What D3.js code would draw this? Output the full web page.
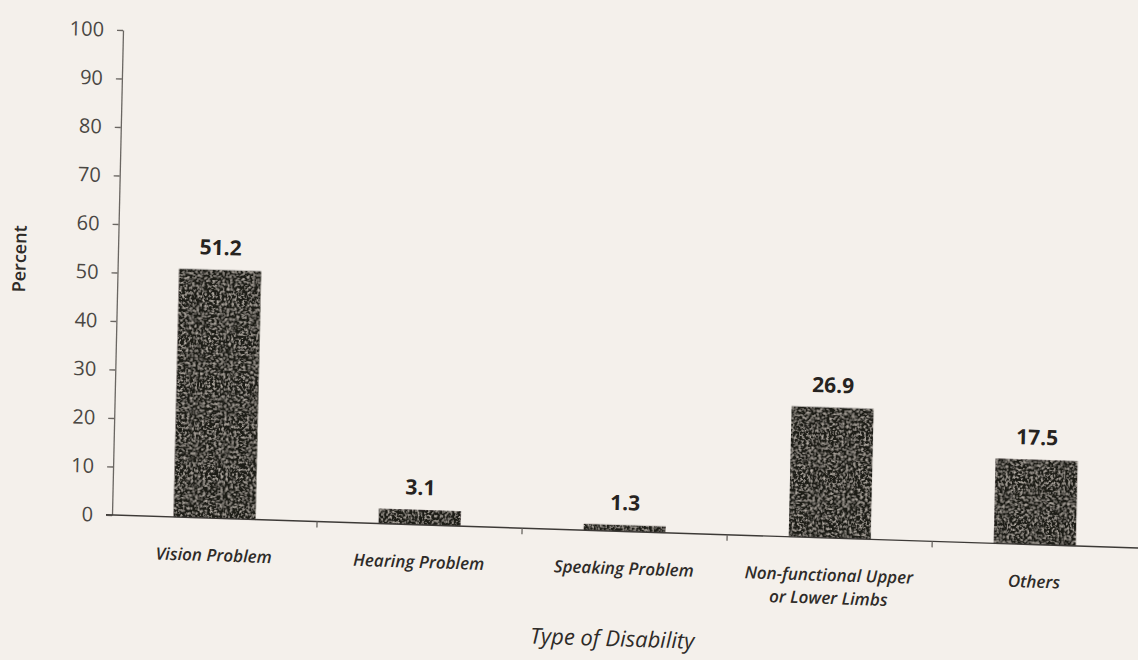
<!DOCTYPE html>
<html>
<head>
<meta charset="utf-8">
<script src="https://cdn.jsdelivr.net/npm/d3@7"></script>
<style>
  html, body { margin: 0; padding: 0; background: #f4f0eb; }
  svg { display: block; }
</style>
</head>
<body>
<script>
// Data
const categories = ["Vision Problem", "Hearing Problem", "Speaking Problem", "Non-functional Upper or Lower Limbs", "Others"];
const categoryLines = [["Vision Problem"], ["Hearing Problem"], ["Speaking Problem"], ["Non-functional Upper", "or Lower Limbs"], ["Others"]];
const percents = [51.2, 3.1, 1.3, 26.9, 17.5];
const yTicks = [0, 10, 20, 30, 40, 50, 60, 70, 80, 90, 100];

// Constants
const width = 1138;
const height = 660;
const plot = { left: 112, right: 1138, top: 30, bottom: 515 };
// the scan is a bit skewed: baseline drops to the right, y axis leans right
const skewX = -1.3;
const skewY = 1.84;

const svg = d3.select("body")
    .append("svg")
    .attr("width", width)
    .attr("height", height);

// grainy texture for the printed bars
const defs = svg.append("defs");
const grain = defs.append("filter").attr("id", "grain")
    .attr("x", 0).attr("y", 0).attr("width", 1).attr("height", 1);
grain.append("feTurbulence")
    .attr("type", "fractalNoise")
    .attr("baseFrequency", 0.4)
    .attr("numOctaves", 3)
    .attr("seed", 7)
    .attr("result", "noise");
grain.append("feColorMatrix")
    .attr("in", "noise")
    .attr("type", "matrix")
    .attr("values", "0 0 0 0 0.5  0 0 0 0 0.46  0 0 0 0 0.41  0 0 0 2.8 -1.35")
    .attr("result", "spots");
grain.append("feComposite")
    .attr("in", "spots").attr("in2", "SourceGraphic")
    .attr("operator", "in").attr("result", "clipped");
const merge = grain.append("feMerge");
merge.append("feMergeNode").attr("in", "SourceGraphic");
merge.append("feMergeNode").attr("in", "clipped");

const g = svg.append("g")
    .attr("transform", `translate(${plot.left}, ${plot.bottom}) skewX(${skewX}) skewY(${skewY}) translate(${-plot.left}, ${-plot.bottom})`);

// Scales
const x = d3.scaleBand()
    .domain(categories)
    .range([plot.left, plot.right])
    .paddingInner(0.6)
    .paddingOuter(0.3);

const y = d3.scaleLinear()
    .domain([0, 100])
    .range([plot.bottom, plot.top]);

// Y axis
const yAxis = g.append("g")
    .attr("transform", `translate(${plot.left}, 0)`)
    .call(d3.axisLeft(y).tickValues(yTicks).tickSize(6).tickSizeOuter(0).tickPadding(13));
yAxis.select(".domain").attr("stroke", "#6a6662").attr("stroke-width", 1.3);
yAxis.selectAll(".tick line").attr("stroke", "#6a6662").attr("stroke-width", 1.3);
yAxis.selectAll(".tick text")
    .attr("fill", "#4a4743")
    .style("font-family", "'Open Sans', sans-serif")
    .style("font-weight", "500")
    .style("font-size", "20px");

// Bars
g.selectAll("rect.bar")
    .data(percents)
    .enter()
    .append("rect")
    .attr("class", "bar")
    .attr("x", (d, i) => x(categories[i]))
    .attr("y", d => y(d))
    .attr("width", x.bandwidth())
    .attr("height", d => y(0) - y(d))
    .attr("fill", "#1f1b18")
    .attr("filter", "url(#grain)");

// X axis line and boundary ticks between categories
g.append("line")
    .attr("x1", plot.left - 6).attr("x2", plot.right + 40)
    .attr("y1", y(0)).attr("y2", y(0))
    .attr("stroke", "#3d3a37").attr("stroke-width", 1.4);

const bounds = categories.map(c => x(c) - x.step() * x.paddingInner() / 2).slice(1);
g.selectAll("line.bound")
    .data(bounds)
    .enter()
    .append("line")
    .attr("class", "bound")
    .attr("x1", d => d).attr("x2", d => d)
    .attr("y1", y(0)).attr("y2", y(0) + 6)
    .attr("stroke", "#6a6662").attr("stroke-width", 1.3);

// Value labels
g.selectAll("text.value")
    .data(percents)
    .enter()
    .append("text")
    .attr("class", "value")
    .attr("x", (d, i) => x(categories[i]) + x.bandwidth() / 2)
    .attr("y", d => y(d) - 15)
    .attr("text-anchor", "middle")
    .attr("fill", "#262320")
    .style("font-family", "'Open Sans', sans-serif")
    .style("font-weight", "700")
    .style("font-size", "21px")
    .text(d => d.toFixed(1));

// Category labels
const catLabels = g.selectAll("text.cat")
    .data(categoryLines)
    .enter()
    .append("text")
    .attr("class", "cat")
    .attr("x", (d, i) => x(categories[i]) + x.bandwidth() / 2)
    .attr("y", y(0) + 43)
    .attr("text-anchor", "middle")
    .attr("fill", "#2e2b28")
    .style("font-family", "'Open Sans', sans-serif")
    .style("font-style", "italic")
    .style("font-weight", "600")
    .style("font-size", "17px");
catLabels.selectAll("tspan")
    .data(d => d)
    .enter()
    .append("tspan")
    .attr("x", function() { return d3.select(this.parentNode).attr("x"); })
    .attr("dy", (d, i) => i === 0 ? 0 : 23)
    .text(d => d);

// Axis titles
g.append("text")
    .attr("transform", "rotate(-90)")
    .attr("x", -262)
    .attr("y", 20)
    .attr("text-anchor", "middle")
    .attr("fill", "#2e2b28")
    .style("font-family", "'Open Sans', sans-serif")
    .style("font-weight", "600")
    .style("font-size", "18px")
    .text("Percent");

g.append("text")
    .attr("x", 615)
    .attr("y", 630)
    .attr("text-anchor", "middle")
    .attr("fill", "#2e2b28")
    .style("font-family", "'Open Sans', sans-serif")
    .style("font-style", "italic")
    .style("font-size", "22px")
    .text("Type of Disability");
</script>
</body>
</html>
